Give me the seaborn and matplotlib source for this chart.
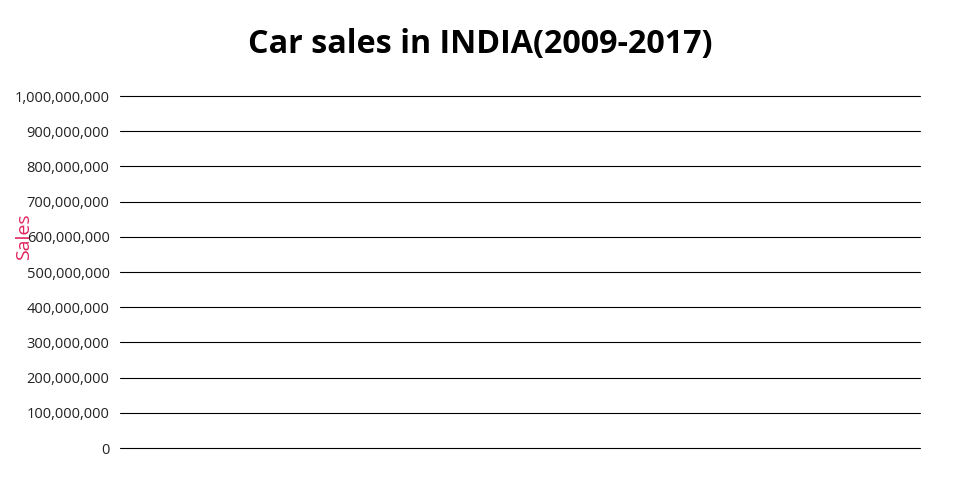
import numpy as np
import pandas as pd
import seaborn as sns
import matplotlib.pyplot as plt
from matplotlib.ticker import FuncFormatter

# data: the reference shows no plotted values, only the empty axis
years = [2009, 2010, 2011, 2012, 2013, 2014, 2015, 2016, 2017]
sales = [np.nan] * len(years)
y_ticks = [0, 100000000, 200000000, 300000000, 400000000, 500000000,
           600000000, 700000000, 800000000, 900000000, 1000000000]

df = pd.DataFrame({'Year': years, 'Sales': sales})

sns.set_style('white')
plt.rcParams['font.family'] = ['Open Sans', 'DejaVu Sans']

fig = plt.figure(figsize=(9.6, 5), dpi=100)
ax = fig.add_axes([0.125, 0.104, 0.8333, 0.704])

sns.lineplot(data=df, x='Year', y='Sales', ax=ax, color='#dc143c')

ax.set_ylim(y_ticks[0], y_ticks[-1])
ax.set_yticks(y_ticks)
ax.yaxis.set_major_formatter(FuncFormatter(lambda v, p: f'{int(v):,}'))
ax.grid(axis='y', color='#000000', linewidth=0.8)
for gl in ax.get_ygridlines():
    gl.set_clip_on(False)  # keep the 0 and top lines fully visible
ax.set_axisbelow(True)
ax.set_xticks([])
ax.set_xlabel('')
ax.set_ylabel('')
ax.tick_params(axis='y', length=0, pad=7.5, labelsize=10.5, labelcolor='#222222')
for s in ax.spines.values():
    s.set_visible(False)

fig.text(0.5, 0.91, 'Car sales in INDIA(2009-2017)', ha='center', va='center',
         fontsize=23.2, fontweight='bold', color='#000000')
fig.text(0.025, 0.526, 'Sales', rotation=90, ha='center', va='center',
         fontsize=14, color='#e0245e')

fig.savefig('out.png', dpi=100)
